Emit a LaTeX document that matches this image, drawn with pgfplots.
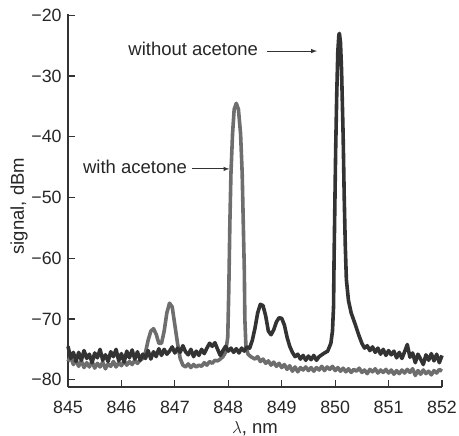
\documentclass[border=0pt]{standalone}
\usepackage{pgfplots}
\pgfplotsset{compat=1.18}
\usepackage{fontspec}
\setmainfont{Liberation Sans}
\definecolor{darkline}{HTML}{333333}
\definecolor{grayline}{HTML}{6E6E6E}
\begin{document}
\fontsize{18.5bp}{22bp}\selectfont
\begin{tikzpicture}
\begin{axis}[
  scale only axis,
  width=374bp, height=373bp,
  xmin=845, xmax=852,
  ymin=-81.2, ymax=-19.8,
  axis x line*=bottom, axis y line*=left,
  axis line style={line width=1.6bp, color=darkline},
  tick style={line width=1.2bp, color=darkline},
  tick align=inside,
  major tick length=7bp,
  xtick={845,846,847,848,849,850,851,852},
  xticklabels={845,846,847,848,849,850,851,852},
  ytick={-80,-70,-60,-50,-40,-30,-20},
  yticklabels={{−80},{−70},{−60},{−50},{−40},{−30},{−20}},
  ticklabel style={font=\fontsize{17.8bp}{22bp}\selectfont, text=black!85},
  xticklabel style={yshift=-8bp},
  xlabel={$\lambda$, nm},
  ylabel={signal, dBm},
  label style={font=\fontsize{18.5bp}{22bp}\selectfont, text=black!85, inner sep=0pt},
  xlabel style={at={(axis description cs:0.5,-0.0912)}, anchor=north},
  ylabel style={at={(axis description cs:-0.107,0.485)}, anchor=south},
  clip=false,
]
\addplot[color=grayline, line width=3.6bp, line join=round] coordinates {
(845.00,-77.0) (845.05,-76.2) (845.10,-77.5) (845.15,-76.8) (845.20,-77.8) (845.25,-76.9) (845.30,-78.0) (845.35,-77.2) (845.40,-77.9) (845.45,-77.0)
(845.50,-78.1) (845.55,-77.3) (845.60,-77.9) (845.65,-77.1) (845.70,-78.2) (845.75,-77.4) (845.80,-77.8) (845.85,-77.0) (845.90,-77.9) (845.95,-77.2)
(846.00,-77.7) (846.05,-76.9) (846.10,-77.6) (846.15,-77.0) (846.20,-77.5) (846.25,-76.8) (846.30,-77.3) (846.35,-76.8) (846.40,-76.5) (846.45,-75.5)
(846.50,-73.5) (846.55,-72.0) (846.60,-71.6) (846.65,-72.5) (846.70,-74.0) (846.75,-74.0) (846.80,-72.0) (846.85,-69.0) (846.90,-67.4) (846.95,-68.0)
(847.00,-71.0) (847.05,-74.0) (847.10,-76.5) (847.15,-77.6) (847.20,-77.9) (847.25,-77.4) (847.30,-78.0) (847.35,-77.5) (847.40,-77.9) (847.45,-77.6)
(847.50,-77.8) (847.55,-77.2) (847.60,-77.6) (847.65,-77.0) (847.70,-77.3) (847.75,-76.8) (847.80,-76.9) (847.85,-76.6) (847.90,-76.2)
(847.95,-75.5) (847.99,-73) (848.01,-65) (848.03,-54) (848.05,-46) (848.08,-39.5) (848.11,-35.5) (848.15,-34.5) (848.19,-35.5) (848.23,-39.5)
(848.26,-46) (848.28,-54) (848.30,-62) (848.31,-70) (848.33,-74.5) (848.37,-75.8) (848.42,-76.2)
(848.50,-76.6) (848.55,-76.2) (848.60,-77.0) (848.65,-76.6) (848.70,-77.3) (848.75,-76.9) (848.80,-77.6) (848.85,-77.1) (848.90,-77.8) (848.95,-77.3)
(849.00,-78.0) (849.05,-77.5) (849.10,-78.3) (849.15,-77.7) (849.20,-78.6) (849.25,-77.9) (849.30,-78.7) (849.35,-78.0) (849.40,-78.4) (849.45,-77.9)
(849.50,-78.5) (849.55,-78.0) (849.60,-78.6) (849.65,-78.0) (849.70,-78.4) (849.75,-77.8) (849.80,-78.5) (849.85,-77.9) (849.90,-78.3) (849.95,-77.8)
(850.00,-78.5) (850.05,-78.0) (850.10,-78.6) (850.15,-78.1) (850.20,-78.7) (850.25,-78.2) (850.30,-78.8) (850.35,-78.3) (850.40,-78.6) (850.45,-78.1)
(850.50,-78.8) (850.55,-78.4) (850.60,-79.0) (850.65,-78.3) (850.70,-78.7) (850.75,-78.2) (850.80,-78.9) (850.85,-78.4) (850.90,-78.8) (850.95,-78.3)
(851.00,-78.9) (851.05,-78.4) (851.10,-79.1) (851.15,-78.5) (851.20,-79.0) (851.25,-78.4) (851.30,-78.9) (851.35,-78.3) (851.40,-78.8) (851.45,-78.2)
(851.50,-79.3) (851.55,-78.5) (851.60,-79.1) (851.65,-78.4) (851.70,-79.0) (851.75,-78.6) (851.80,-79.2) (851.85,-78.5) (851.90,-78.9) (851.95,-78.3)
(852.00,-78.6)
};
\addplot[color=darkline, line width=3.6bp, line join=round] coordinates {
(845.00,-74.5) (845.05,-76.5) (845.10,-75.5) (845.15,-77.0) (845.20,-75.5) (845.25,-76.8) (845.30,-75.2) (845.35,-76.5) (845.40,-75.8) (845.45,-77.2)
(845.50,-75.6) (845.55,-76.4) (845.60,-75.0) (845.65,-76.8) (845.70,-75.9) (845.75,-77.0) (845.80,-75.4) (845.85,-76.2) (845.90,-75.0) (845.95,-76.9)
(846.00,-75.7) (846.05,-77.1) (846.10,-75.3) (846.15,-76.4) (846.20,-75.1) (846.25,-76.6) (846.30,-75.4) (846.35,-76.8) (846.40,-75.8) (846.45,-76.5)
(846.50,-75.2) (846.55,-76.6) (846.60,-75.4) (846.65,-76.2) (846.70,-74.9) (846.75,-76.0) (846.80,-75.0) (846.85,-75.8) (846.90,-75.3) (846.95,-74.6)
(847.00,-75.6) (847.05,-74.8) (847.10,-75.5) (847.15,-74.4) (847.20,-75.4) (847.25,-75.9) (847.30,-75.0) (847.35,-76.2) (847.40,-75.3) (847.45,-76.0)
(847.50,-75.0) (847.55,-75.7) (847.60,-74.8) (847.65,-74.0) (847.70,-74.5) (847.75,-73.9) (847.80,-75.0) (847.85,-76.0) (847.90,-75.2) (847.95,-74.5)
(848.00,-75.3) (848.05,-74.8) (848.10,-75.5) (848.15,-74.9) (848.20,-75.6) (848.25,-74.8) (848.30,-75.3) (848.35,-74.6) (848.40,-74.8) (848.45,-73.5)
(848.50,-71.5) (848.55,-69.0) (848.60,-67.6) (848.65,-67.8) (848.70,-69.5) (848.75,-72.0) (848.80,-72.6) (848.85,-71.8) (848.90,-70.5) (848.95,-69.8)
(849.00,-69.9) (849.05,-71.0) (849.10,-73.0) (849.15,-74.5) (849.20,-75.5) (849.25,-76.2) (849.30,-75.8) (849.35,-76.6) (849.40,-76.0) (849.45,-76.8)
(849.50,-76.1) (849.55,-76.7) (849.60,-76.0) (849.65,-76.8) (849.70,-76.2) (849.75,-75.9) (849.80,-75.6)
(849.86,-75.3) (849.92,-74) (849.95,-72) (849.97,-68) (849.98,-60) (849.99,-54) (850.01,-42) (850.03,-33) (850.05,-26) (850.07,-23.2)
(850.08,-23.0) (850.10,-24.5) (850.12,-29) (850.15,-40) (850.17,-50) (850.19,-58) (850.21,-63.5) (850.25,-67) (850.30,-69) (850.38,-71)
(850.44,-72.6) (850.50,-74.0) (850.55,-74.8) (850.60,-74.4) (850.65,-75.2)
(850.70,-74.6) (850.75,-75.5) (850.80,-74.8) (850.85,-75.8) (850.90,-75.0) (850.95,-76.0) (851.00,-75.2) (851.05,-75.9) (851.10,-75.3) (851.15,-76.4)
(851.20,-75.5) (851.25,-76.5) (851.30,-75.4) (851.35,-74.2) (851.40,-76.3) (851.45,-75.6) (851.50,-77.2) (851.55,-75.8) (851.60,-76.6) (851.65,-77.5)
(851.70,-75.9) (851.75,-76.8) (851.80,-75.7) (851.85,-76.9) (851.90,-75.8) (851.95,-77.2) (852.00,-76.0)
};
\node[anchor=east, inner sep=0pt, text=black!85, font=\fontsize{18.5bp}{22bp}\selectfont] at (axis cs:848.56,-25.6) {without acetone};
\draw[-latex, line width=1bp, darkline] (axis cs:848.73,-25.9) -- (axis cs:849.66,-25.9);
\node[anchor=east, inner sep=0pt, text=black!85, font=\fontsize{18.5bp}{22bp}\selectfont] at (axis cs:847.23,-45.0) {with acetone};
\draw[-latex, line width=1bp, darkline] (axis cs:847.32,-45.3) -- (axis cs:848.02,-45.3);
\end{axis}
\pgfresetboundingbox
\path[use as bounding box] ([shift={(-68bp,-49bp)}]current axis.south west) rectangle ([shift={(17bp,14bp)}]current axis.north east);
\end{tikzpicture}
\end{document}
